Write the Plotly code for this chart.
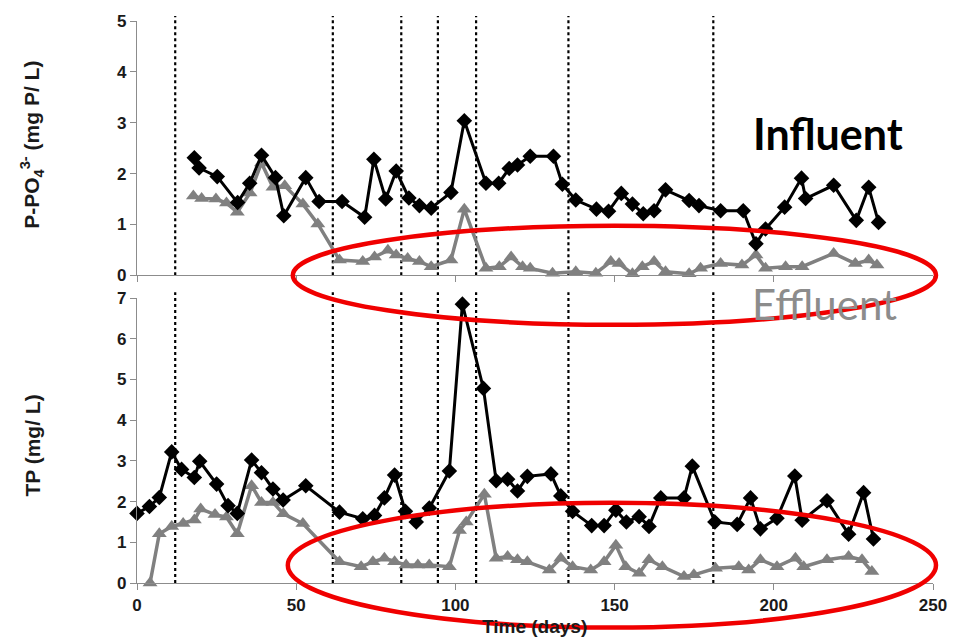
import plotly.graph_objects as go

# ---------------- data ----------------
po4_inf_days = [18, 19.5, 25.2, 31.6, 35.4, 39.1, 43.5, 46.1, 53, 57.2,
                64.4, 71.5, 74.4, 78.1, 81.4, 85.4, 88.7, 92.4, 98.6, 102.8,
                109.6, 113.6, 116.9, 119.5, 123.5, 130.8, 133.6, 137.8, 144.3, 148.1,
                152.1, 155.6, 159, 162.4, 166, 173.4, 176.5, 183.3, 190.4, 194.4,
                197.4, 203.4, 208.7, 210, 218.8, 225.9, 229.8, 232.9]
po4_inf_vals = [2.31, 2.11, 1.94, 1.43, 1.81, 2.36, 1.92, 1.17, 1.92, 1.45,
                1.45, 1.14, 2.28, 1.50, 2.05, 1.52, 1.37, 1.32, 1.63, 3.04,
                1.81, 1.81, 2.10, 2.17, 2.34, 2.34, 1.79, 1.48, 1.30, 1.26,
                1.61, 1.40, 1.21, 1.27, 1.68, 1.47, 1.37, 1.27, 1.27, 0.62,
                0.91, 1.34, 1.91, 1.51, 1.77, 1.08, 1.73, 1.04]

po4_eff_days = [17.7, 20.3, 24.8, 28.1, 31.5, 35.5, 39.1, 42.7, 46.4, 52.1,
                56.8, 63.6, 70.9, 74.6, 78.8, 81.4, 85, 88.7, 92.4, 98.6,
                102.8, 109.6, 113.8, 117.5, 121.1, 123.5, 130.5, 137.8, 144.1, 148.8,
                151.4, 155.6, 158.7, 162.4, 166, 173.4, 177, 183.3, 190, 194.4,
                197.4, 203.7, 208.9, 218.8, 225.6, 229.8, 232.4]
po4_eff_vals = [1.56, 1.51, 1.50, 1.42, 1.24, 1.62, 2.21, 1.73, 1.76, 1.40,
                1.01, 0.30, 0.27, 0.36, 0.49, 0.40, 0.33, 0.27, 0.17, 0.30,
                1.30, 0.14, 0.17, 0.36, 0.17, 0.14, 0.04, 0.07, 0.04, 0.27,
                0.23, 0.03, 0.17, 0.27, 0.07, 0.03, 0.14, 0.23, 0.20, 0.40,
                0.14, 0.17, 0.17, 0.43, 0.23, 0.30, 0.20]

tp_inf_days = [0, 3.9, 7, 10.9, 14, 18, 19.7, 25, 28.6, 31.5,
               36, 39.1, 42.7, 45.9, 53, 63.6, 70.9, 74.6, 77.7, 80.9,
               84.3, 87.7, 91.8, 98.1, 102.2, 108.8, 112.8, 116.4, 119.5, 122.6,
               130, 133.1, 136.8, 142.8, 146.7, 150.4, 153.7, 157.7, 160.8, 164.5,
               171.8, 174.4, 181.5, 188.5, 192.7, 195.8, 201, 206.6, 208.9, 216.7,
               223.5, 228.2, 231.3]
tp_inf_vals = [1.71, 1.88, 2.10, 3.22, 2.79, 2.59, 2.99, 2.43, 1.90, 1.71,
               3.02, 2.71, 2.31, 2.04, 2.39, 1.74, 1.58, 1.66, 2.09, 2.65,
               1.76, 1.50, 1.84, 2.75, 6.85, 4.78, 2.51, 2.55, 2.26, 2.62,
               2.68, 2.14, 1.76, 1.41, 1.41, 1.79, 1.50, 1.63, 1.39, 2.09,
               2.09, 2.87, 1.50, 1.44, 2.09, 1.33, 1.59, 2.63, 1.54, 2.02,
               1.20, 2.22, 1.08]

tp_eff_days = [4.1, 7, 10.9, 14.5, 18, 20, 24.5, 28.1, 31.5, 36,
               39.1, 42.7, 46, 52.1, 63.6, 70.4, 74.1, 77.7, 80.9, 84.5,
               88.2, 91.8, 98.1, 101.3, 103.4, 109.1, 112.8, 116.4, 119.5, 122.6,
               129.5, 133.1, 136.8, 142.5, 146.7, 150.4, 153.5, 157.7, 160.8, 165,
               171.8, 174.9, 181.7, 189, 192.1, 195.8, 201, 206.8, 209.4, 216.7,
               223.5, 227.7, 230.8]
tp_eff_vals = [0, 1.21, 1.39, 1.46, 1.55, 1.82, 1.68, 1.62, 1.21, 2.39,
               1.98, 1.98, 1.70, 1.46, 0.52, 0.40, 0.52, 0.61, 0.52, 0.44,
               0.44, 0.44, 0.40, 1.29, 1.50, 2.18, 0.61, 0.65, 0.57, 0.52,
               0.32, 0.61, 0.40, 0.32, 0.52, 0.93, 0.40, 0.24, 0.57, 0.40,
               0.16, 0.20, 0.36, 0.40, 0.32, 0.57, 0.40, 0.61, 0.40, 0.57,
               0.65, 0.57, 0.28]

phase_days = [12, 61.5, 83, 94.5, 106.5, 135.5, 181]

x_ticks = [0, 50, 100, 150, 200, 250]
y_top_ticks = [0, 1, 2, 3, 4, 5]
y_bot_ticks = [0, 1, 2, 3, 4, 5, 6, 7]

# ---------------- styles ----------------
INF_COLOR = "black"
EFF_COLOR = "#808080"
AXIS_COLOR = "#8c8c8c"
TICKFONT = dict(family="Liberation Sans, Arial", size=17, color="#1a1a1a", weight="bold")

W, H = 959, 638
ML, MR, MT, MB = 137, 25, 15, 55
PW, PH = W - ML - MR, H - MT - MB


def px_x(px):
    return (px - ML) / PW


def px_y(py):
    return (H - MB - py) / PH


fig = go.Figure()


def add_series(xs, ys, color, symbol, size, xa, ya, lw):
    fig.add_trace(go.Scatter(
        x=xs, y=ys, mode="lines+markers", xaxis=xa, yaxis=ya,
        line=dict(color=color, width=lw),
        marker=dict(symbol=symbol, size=size, color=color),
        showlegend=False, cliponaxis=False))


add_series(po4_eff_days, po4_eff_vals, EFF_COLOR, "triangle-up", 13, "x2", "y2", 3.5)
add_series(po4_inf_days, po4_inf_vals, INF_COLOR, "diamond", 12, "x2", "y2", 3)
add_series(tp_eff_days, tp_eff_vals, EFF_COLOR, "triangle-up", 13, "x", "y", 3.5)
add_series(tp_inf_days, tp_inf_vals, INF_COLOR, "diamond", 12, "x", "y", 3)

shapes = []
for d in phase_days:
    for xr, yr in (("x", "y domain"), ("x2", "y2 domain")):
        shapes.append(dict(type="line", xref=xr, yref=yr, x0=d, x1=d, y0=0, y1=1.02,
                           line=dict(color="black", width=2.2, dash="dot"), layer="below"))

# red ellipses highlighting effluent
shapes.append(dict(type="circle", xref="paper", yref="paper",
                   x0=px_x(293), x1=px_x(937), y0=px_y(322), y1=px_y(222),
                   line=dict(color="#f00000", width=4.5), layer="above"))
shapes.append(dict(type="circle", xref="paper", yref="paper",
                   x0=px_x(288), x1=px_x(937), y0=px_y(628), y1=px_y(502),
                   line=dict(color="#f00000", width=4.5), layer="above"))

annotations = [
    dict(text="Influent", xref="paper", yref="paper", x=px_x(829), y=px_y(129),
         showarrow=False, xanchor="center", yanchor="middle",
         font=dict(family="Lato", size=43, color="black", weight="bold")),
    dict(text="Effluent", xref="paper", yref="paper", x=px_x(825), y=px_y(301),
         showarrow=False, xanchor="center", yanchor="middle",
         font=dict(family="Lato", size=42, color="#8c8c8c")),
    dict(text="<b>P-PO<sub>4</sub><sup>3-</sup> (mg P/ L)</b>", xref="paper", yref="paper",
         x=px_x(32), y=px_y(140), textangle=-90, showarrow=False,
         xanchor="center", yanchor="middle",
         font=dict(family="Liberation Sans, Arial", size=21, color="#1a1a1a")),
    dict(text="<b>TP (mg/ L)</b>", xref="paper", yref="paper",
         x=px_x(32), y=px_y(444), textangle=-90, showarrow=False,
         xanchor="center", yanchor="middle",
         font=dict(family="Liberation Sans, Arial", size=21, color="#1a1a1a")),
    dict(text="<b>Time (days)</b>", xref="paper", yref="paper",
         x=px_x(535), y=px_y(627), showarrow=False,
         xanchor="center", yanchor="middle",
         font=dict(family="Liberation Sans, Arial", size=19, color="#1a1a1a")),
]

axis_common = dict(showline=True, linecolor=AXIS_COLOR, linewidth=1.2,
                   ticks="outside", tickcolor=AXIS_COLOR, ticklen=6, tickwidth=1.2,
                   showgrid=False, zeroline=False, tickfont=TICKFONT)

fig.update_layout(
    width=W, height=H,
    margin=dict(l=ML, r=MR, t=MT, b=MB),
    paper_bgcolor="white", plot_bgcolor="white",
    xaxis=dict(range=[0, 250], tickvals=x_ticks, anchor="y", domain=[0, 1], **axis_common),
    xaxis2=dict(range=[0, 250], tickvals=x_ticks, anchor="y2", domain=[0, 1],
                matches="x", showticklabels=False, **axis_common),
    yaxis=dict(range=[0, 7], tickvals=y_bot_ticks, domain=[0, px_y(295)], anchor="x",
               **axis_common),
    yaxis2=dict(range=[0, 5], tickvals=y_top_ticks, domain=[px_y(272), 1], anchor="x2",
                **axis_common),
    shapes=shapes,
    annotations=annotations,
)

fig.write_html("out.html")
